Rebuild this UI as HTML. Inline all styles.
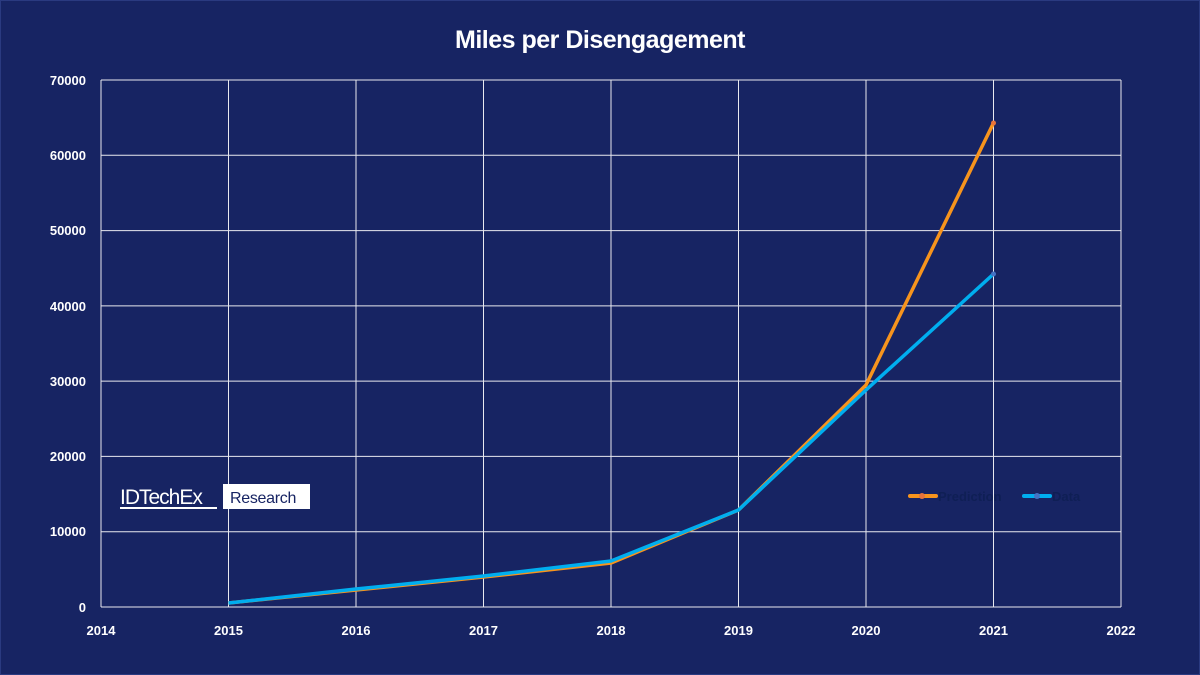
<!DOCTYPE html>
<html><head><style>
body{margin:0;width:1200px;height:675px;background:#172463;overflow:hidden;font-family:"Liberation Sans",Arial,sans-serif}
</style></head><body>
<svg width="1200" height="675" xmlns="http://www.w3.org/2000/svg" style="position:absolute;left:0;top:0">
<rect x="0.5" y="0.5" width="1199" height="674" fill="#172463" stroke="#2a3a80"/>
<text x="600" y="48" text-anchor="middle" fill="#fff" font-size="25" font-weight="bold" letter-spacing="-0.5">Miles per Disengagement</text>
<g stroke="#ffffff" stroke-width="1" opacity="0.9">
<line x1="101" y1="80" x2="1121" y2="80"/><line x1="101" y1="155.3" x2="1121" y2="155.3"/>
<line x1="101" y1="230.6" x2="1121" y2="230.6"/><line x1="101" y1="305.9" x2="1121" y2="305.9"/>
<line x1="101" y1="381.1" x2="1121" y2="381.1"/><line x1="101" y1="456.4" x2="1121" y2="456.4"/>
<line x1="101" y1="531.7" x2="1121" y2="531.7"/><line x1="101" y1="607" x2="1121" y2="607"/>
<line x1="101" y1="80" x2="101" y2="607"/><line x1="228.5" y1="80" x2="228.5" y2="607"/>
<line x1="356" y1="80" x2="356" y2="607"/><line x1="483.5" y1="80" x2="483.5" y2="607"/>
<line x1="611" y1="80" x2="611" y2="607"/><line x1="738.5" y1="80" x2="738.5" y2="607"/>
<line x1="866" y1="80" x2="866" y2="607"/><line x1="993.5" y1="80" x2="993.5" y2="607"/>
<line x1="1121" y1="80" x2="1121" y2="607"/>
</g>
<g fill="#fff" font-size="13" font-weight="bold" text-anchor="end">
<text x="86" y="85">70000</text><text x="86" y="160">60000</text><text x="86" y="235">50000</text>
<text x="86" y="311">40000</text><text x="86" y="386">30000</text><text x="86" y="461">20000</text>
<text x="86" y="536">10000</text><text x="86" y="612">0</text>
</g>
<g fill="#fff" font-size="13" font-weight="bold" text-anchor="middle">
<text x="101" y="635">2014</text><text x="228.5" y="635">2015</text><text x="356" y="635">2016</text>
<text x="483.5" y="635">2017</text><text x="611" y="635">2018</text><text x="738.5" y="635">2019</text>
<text x="866" y="635">2020</text><text x="993.5" y="635">2021</text><text x="1121" y="635">2022</text>
</g>
<polyline fill="none" stroke="#f7941d" stroke-width="3.5" stroke-linejoin="round" points="228.5,603 356,590 483.5,577 611,563 738.5,510 866,385 993.5,123"/>
<polyline fill="none" stroke="#00aeef" stroke-width="3.5" stroke-linejoin="round" points="228.5,603 356,589 483.5,576 611,561 738.5,510 866,390 993.5,274"/>
<circle cx="993.5" cy="123" r="2.5" fill="#e8743b"/><circle cx="993.5" cy="274" r="2.5" fill="#4472c4"/>
<text x="120" y="504" fill="#fff" font-size="21" letter-spacing="-1">IDTechEx</text>
<rect x="120" y="507" width="97" height="2" fill="#fff"/>
<rect x="223" y="484" width="87" height="25" fill="#fff"/>
<text x="230" y="503" fill="#172463" font-size="16" letter-spacing="-0.3">Research</text>
<line x1="910" y1="496" x2="936" y2="496" stroke="#f7941d" stroke-width="4" stroke-linecap="round"/>
<circle cx="922" cy="496" r="3" fill="#e8743b"/>
<text x="938" y="501" fill="#0f1f55" font-size="13" font-weight="bold">Prediction</text>
<line x1="1024" y1="496" x2="1050" y2="496" stroke="#00aeef" stroke-width="4" stroke-linecap="round"/>
<circle cx="1037" cy="496" r="3" fill="#4472c4"/>
<text x="1052" y="501" fill="#0f1f55" font-size="13" font-weight="bold">Data</text>
</svg>
</body></html>
